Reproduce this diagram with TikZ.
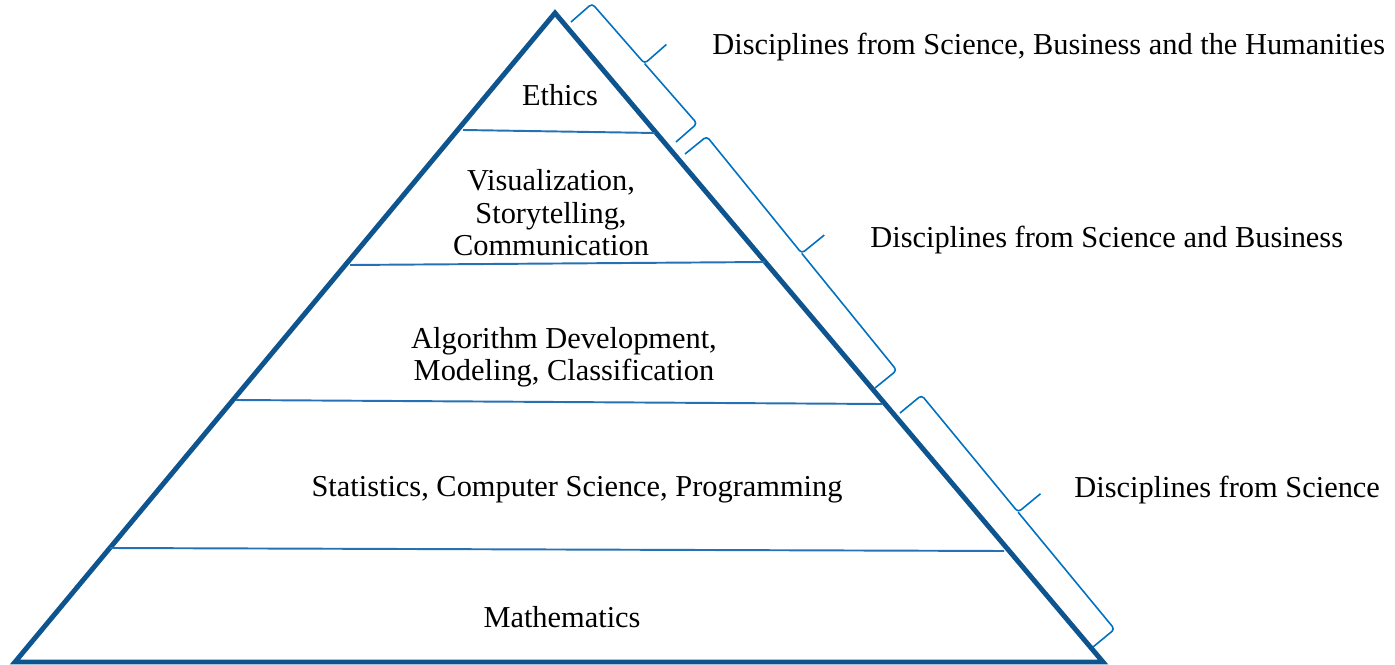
\documentclass[tikz,border=0pt]{standalone}
\usepackage{fontspec}
\setmainfont{Liberation Serif}
\usetikzlibrary{calc}
\definecolor{edgeblue}{RGB}{14,84,143}
\definecolor{lineblue}{RGB}{36,113,180}
\definecolor{braceblue}{RGB}{0,112,192}
\newcommand{\sidebrace}[2]{%
    \coordinate (#1-mid) at ($(#1)!0.5!(#2)$);
    \draw[sidebr] (#1) -- ($(#1)!0.56cm!90:(#2)$)
        -- ($(#1-mid)!0.56cm!90:(#2)$) -- ($(#1-mid)!1.14cm!90:(#2)$);
    \draw[sidebr] ($(#1-mid)!0.56cm!90:(#2)$) -- ($(#2)!0.56cm!-90:(#1)$) -- (#2);
}
\begin{document}
\begin{tikzpicture}[x=0.02cm, y=-0.02cm,
    txt/.style={align=center, font=\fontsize{17.3}{18.5}\selectfont},
    side/.style={txt, anchor=west, inner sep=0pt},
    divider/.style={lineblue, line width=1.1pt},
    sidebr/.style={braceblue, line width=0.9pt, rounded corners=2pt}]
\useasboundingbox (0,0) rectangle (1395,665);

    \coordinate (top) at (555,13);
    \coordinate (bl) at (15,662);
    \coordinate (br) at (1103,662);

    \coordinate (1l) at (463,130);
    \coordinate (1r) at (655,133);
    \coordinate (2l) at (350,265);
    \coordinate (2r) at (765,262);
    \coordinate (3l) at (236,400);
    \coordinate (3r) at (882,404);
    \coordinate (4l) at (110,548);
    \coordinate (4r) at (1004,551);

    \node[txt] (ethics) at (560,95) {Ethics};
    \node[txt] (vis) at (551,213) {Visualization,\\Storytelling,\\Communication};
    \node[txt] (algo) at (564,357) {Algorithm Development,\\Modeling, Classification};
    \node[txt] (stat) at (577,490) {Statistics, Computer Science, Programming};
    \node[txt] (math) at (562,617) {Mathematics};

    \draw[edgeblue, line width=2.8pt] (top) -- (bl) -- (br) -- cycle;
    \draw[divider] (1l) -- (1r);
    \draw[divider] (2l) -- (2r);
    \draw[divider] (3l) -- (3r);
    \draw[divider] (4l) -- (4r);

    % braces on the right edge
    \coordinate (b1) at (571,22);
    \coordinate (e1) at (676,142);
    \coordinate (b2) at (685,154);
    \coordinate (e2) at (875,388);
    \coordinate (b3) at (900,413);
    \coordinate (e3) at (1093,647);
    \sidebrace{b1}{e1}
    \sidebrace{b2}{e2}
    \sidebrace{b3}{e3}

    \node[side] (hum) at (712,47) {Disciplines from Science, Business and the Humanities};
    \node[side] (bus) at (870,240) {Disciplines from Science and Business};
    \node[side] (sci) at (1074,490) {Disciplines from Science};

\end{tikzpicture}
\end{document}
